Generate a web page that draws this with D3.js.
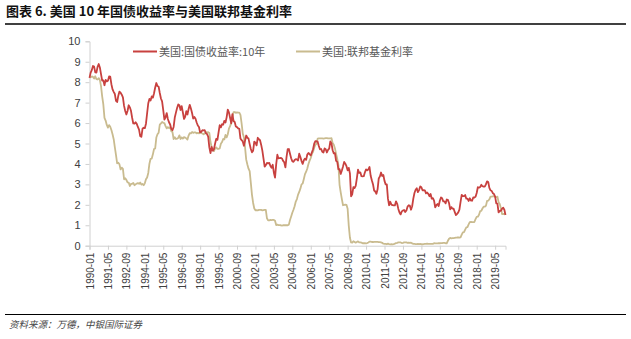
<!DOCTYPE html>
<html><head><meta charset="utf-8">
<script src="https://cdn.jsdelivr.net/npm/d3@7/dist/d3.min.js"></script>
<style>
body{margin:0;background:#fff;}
svg{display:block;font-family:"Noto Sans CJK SC","Noto Sans",sans-serif;}
</style></head>
<body><svg id="c" width="631" height="339"></svg>
<script>
const startYear = 1990, startMonth = 1;
const seriesNames = ["美国:国债收益率:10年", "美国:联邦基金利率"];
const yTicks = [0,1,2,3,4,5,6,7,8,9,10];
const xTickLabels = ["1990-01","1991-05","1992-09","1994-01","1995-05","1996-09","1998-01","1999-05","2000-09","2002-01","2003-05","2004-09","2006-01","2007-05","2008-09","2010-01","2011-05","2012-09","2014-01","2015-05","2016-09","2018-01","2019-05"];
// monthly, 1990-01 .. 2020-02
const treasury10y = [
8.21,8.47,8.59,8.79,8.76,8.48,8.47,8.75,8.89,8.72,8.39,8.08,
8.09,7.85,8.11,8.04,8.07,8.28,8.27,7.90,7.65,7.53,7.42,7.09,
7.03,7.34,7.54,7.48,7.39,7.26,6.84,6.59,6.42,6.59,6.87,6.77,
6.60,6.26,5.98,5.97,6.04,5.96,5.81,5.68,5.36,5.33,5.72,5.77,
5.75,5.97,6.48,6.97,7.18,7.10,7.30,7.24,7.46,7.74,7.96,7.81,
7.78,7.47,7.20,7.06,6.63,6.17,6.28,6.49,6.20,6.04,5.93,5.71,
5.65,5.81,6.27,6.51,6.74,6.91,6.87,6.64,6.83,6.53,6.20,6.30,
6.58,6.42,6.69,6.89,6.71,6.49,6.22,6.30,6.21,6.03,5.88,5.81,
5.54,5.57,5.65,5.64,5.65,5.50,5.46,5.34,4.81,4.53,4.83,4.65,
4.72,5.00,5.23,5.18,5.54,5.90,5.79,5.94,5.92,6.11,6.03,6.28,
6.66,6.52,6.26,5.99,6.44,6.10,6.05,5.83,5.80,5.74,5.72,5.24,
5.16,5.10,4.89,5.14,5.39,5.28,5.24,4.97,4.73,4.57,4.65,5.09,
5.04,4.91,5.28,5.21,5.16,4.93,4.65,4.26,3.87,3.94,4.05,4.03,
4.05,3.90,3.81,3.96,3.57,3.33,3.98,4.45,4.27,4.29,4.30,4.27,
4.15,4.08,3.83,4.35,4.72,4.73,4.50,4.28,4.13,4.10,4.19,4.23,
4.22,4.17,4.50,4.34,4.14,4.00,4.18,4.26,4.20,4.46,4.54,4.47,
4.42,4.57,4.72,4.99,5.11,5.11,5.09,4.88,4.72,4.73,4.60,4.56,
4.76,4.72,4.56,4.69,4.75,5.10,5.00,4.67,4.52,4.53,4.15,4.10,
3.74,3.74,3.51,3.68,3.88,4.10,4.01,3.89,3.69,3.81,3.53,2.42,
2.52,2.87,2.82,2.93,3.29,3.72,3.56,3.59,3.40,3.39,3.40,3.59,
3.73,3.69,3.73,3.85,3.42,3.20,3.01,2.70,2.65,2.54,2.76,3.29,
3.39,3.58,3.41,3.46,3.17,3.00,3.00,2.30,1.98,2.15,2.01,1.98,
1.97,1.97,2.17,2.05,1.80,1.62,1.53,1.68,1.72,1.75,1.65,1.72,
1.91,1.98,1.96,1.76,1.93,2.30,2.58,2.74,2.81,2.62,2.72,2.90,
2.86,2.71,2.72,2.71,2.56,2.60,2.54,2.42,2.53,2.30,2.33,2.21,
1.88,1.98,2.04,1.94,2.20,2.36,2.32,2.17,2.17,2.07,2.26,2.24,
2.09,1.78,1.89,1.81,1.81,1.64,1.50,1.56,1.63,1.76,2.14,2.49,
2.43,2.42,2.48,2.30,2.30,2.19,2.32,2.21,2.20,2.36,2.35,2.40,
2.58,2.86,2.84,2.87,2.98,2.91,2.89,2.89,3.00,3.15,3.12,2.83,
2.71,2.68,2.57,2.53,2.40,2.07,2.06,1.63,1.70,1.71,1.81,1.86,
1.76,1.50];
const fedFunds = [
8.23,8.24,8.28,8.26,8.18,8.29,8.15,8.13,8.20,8.11,7.81,7.31,
6.91,6.25,6.12,5.91,5.78,5.90,5.82,5.66,5.45,5.21,4.81,4.43,
4.03,4.06,3.98,3.73,3.82,3.76,3.25,3.30,3.22,3.10,3.09,2.92,
3.02,3.03,3.07,2.96,3.00,3.04,3.06,3.03,3.09,2.99,3.02,2.96,
3.05,3.25,3.34,3.56,4.01,4.25,4.26,4.47,4.73,4.76,5.29,5.45,
5.53,5.92,5.98,6.05,6.01,6.00,5.85,5.74,5.80,5.76,5.80,5.60,
5.56,5.22,5.31,5.22,5.24,5.27,5.40,5.22,5.30,5.24,5.31,5.29,
5.25,5.19,5.39,5.51,5.50,5.56,5.52,5.54,5.54,5.50,5.52,5.50,
5.56,5.51,5.49,5.45,5.49,5.56,5.54,5.55,5.51,5.07,4.83,4.68,
4.63,4.76,4.81,4.74,4.74,4.76,4.99,5.07,5.22,5.20,5.42,5.30,
5.45,5.73,5.85,6.02,6.27,6.53,6.54,6.50,6.52,6.51,6.51,6.40,
5.98,5.49,5.31,4.80,4.21,3.97,3.77,3.65,3.07,2.49,2.09,1.82,
1.73,1.74,1.73,1.75,1.75,1.75,1.73,1.74,1.75,1.75,1.34,1.24,
1.24,1.26,1.25,1.26,1.26,1.22,1.01,1.03,1.01,1.01,1.00,0.98,
1.00,1.01,1.00,1.00,1.00,1.03,1.26,1.43,1.61,1.76,1.93,2.16,
2.28,2.50,2.63,2.79,3.00,3.04,3.26,3.50,3.62,3.78,4.00,4.16,
4.29,4.49,4.59,4.79,4.94,4.99,5.24,5.25,5.25,5.25,5.25,5.24,
5.25,5.26,5.26,5.25,5.25,5.25,5.26,5.02,4.94,4.76,4.49,4.24,
3.94,2.98,2.61,2.28,1.98,2.00,2.01,2.00,1.81,0.97,0.39,0.16,
0.15,0.22,0.18,0.15,0.18,0.21,0.16,0.16,0.15,0.12,0.12,0.12,
0.11,0.13,0.16,0.20,0.20,0.18,0.18,0.19,0.19,0.19,0.19,0.18,
0.17,0.16,0.14,0.10,0.09,0.09,0.07,0.10,0.08,0.07,0.08,0.07,
0.08,0.10,0.13,0.14,0.16,0.16,0.16,0.13,0.14,0.16,0.16,0.16,
0.14,0.15,0.14,0.15,0.11,0.09,0.09,0.08,0.08,0.09,0.08,0.09,
0.07,0.07,0.08,0.09,0.09,0.10,0.09,0.09,0.09,0.09,0.09,0.12,
0.11,0.11,0.11,0.12,0.12,0.13,0.13,0.14,0.14,0.12,0.12,0.24,
0.34,0.38,0.36,0.37,0.37,0.38,0.39,0.40,0.40,0.40,0.41,0.54,
0.65,0.66,0.79,0.90,0.91,1.04,1.15,1.16,1.15,1.15,1.16,1.30,
1.41,1.42,1.51,1.69,1.70,1.82,1.91,1.91,1.95,2.19,2.20,2.27,
2.40,2.40,2.41,2.42,2.39,2.38,2.40,2.13,2.04,1.83,1.55,1.55,
1.55,1.58];

const colors = ["#C8413F", "#C9BB8F"];
const svg = d3.select("#c");

// Title
svg.append("text").attr("x",6).attr("y",16)
  .attr("font-size",13).attr("font-weight","bold").attr("fill","#111")
  .text("图表 6. 美国 10 年国债收益率与美国联邦基金利率");
svg.append("line").attr("x1",5).attr("x2",626).attr("y1",24).attr("y2",24)
  .attr("stroke","#000").attr("stroke-width",1.5);

const n = treasury10y.length;
const monthLabel = i => {
  const m = startMonth - 1 + i;
  const y = startYear + Math.floor(m/12);
  return y + "-" + String(m%12+1).padStart(2,"0");
};
const labels = d3.range(n).map(monthLabel);
const idx = new Map(labels.map((l,i)=>[l,i]));

const x = d3.scaleLinear().domain([0, n-1]).range([89.5, 505.5]);
const y = d3.scaleLinear().domain([0, 10]).range([245.7, 41.3]);

// Y axis
const yAxis = d3.axisLeft(y).tickValues(yTicks).tickSize(4).tickPadding(5).tickFormat(d3.format("d"));
const gy = svg.append("g").attr("transform","translate(89.5,0)").call(yAxis);
gy.select(".domain").attr("stroke","#d0d0d0");
gy.selectAll(".tick line").attr("stroke","#d0d0d0");
gy.selectAll(".tick text").attr("font-size",11).attr("fill","#404040")
  .attr("font-family","'Liberation Sans',Arial,sans-serif");

// X axis
const xAxis = d3.axisBottom(x).tickValues(xTickLabels.map(l=>idx.get(l)))
  .tickSize(4).tickFormat(i => labels[i]);
const gx = svg.append("g").attr("transform","translate(0,245.7)").call(xAxis);
gx.select(".domain").attr("stroke","#d0d0d0");
gx.selectAll(".tick line").attr("stroke","#d0d0d0");
gx.selectAll(".tick text").attr("font-size",10).attr("fill","#404040")
  .attr("font-family","'Liberation Sans',Arial,sans-serif")
  .attr("transform","rotate(-90)").attr("text-anchor","end")
  .attr("x",-7).attr("y",0).attr("dy","0.35em");

// Lines
const line = d3.line().x((d,i)=>x(i)).y(d=>y(d));
[fedFunds, treasury10y].forEach((s,k)=>{
  const c = k===0 ? colors[1] : colors[0];
  svg.append("path").datum(s).attr("d",line).attr("fill","none")
    .attr("stroke",c).attr("stroke-width",1.8).attr("stroke-linejoin","round");
});

// Legend
const legX = [133, 296];
seriesNames.forEach((name,k)=>{
  svg.append("line").attr("x1",legX[k]).attr("x2",legX[k]+24).attr("y1",51.5).attr("y2",51.5)
    .attr("stroke",colors[k]).attr("stroke-width",2);
  svg.append("text").attr("x",legX[k]+26).attr("y",55.5).attr("font-size",11)
    .attr("fill","#595959").text(name);
});

// Footer
svg.append("line").attr("x1",5).attr("x2",626).attr("y1",314.5).attr("y2",314.5)
  .attr("stroke","#000").attr("stroke-width",1.2);
svg.append("text").attr("x",9).attr("y",328).attr("font-size",9.5)
  .attr("font-style","italic").attr("fill","#444")
  .text("资料来源：万德，中银国际证券");
</script></body></html>
